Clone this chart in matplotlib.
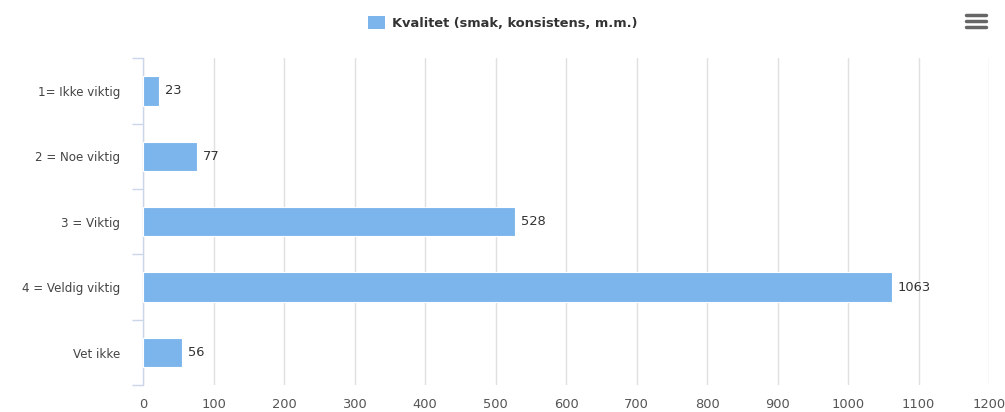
#!/usr/bin/env python3
"""
Horizontal bar chart: Kvalitet (smak, konsistens, m.m.)
"""

import matplotlib
matplotlib.use('Agg')
import matplotlib.pyplot as plt
from matplotlib.lines import Line2D
from matplotlib.patches import Patch

categories = ['1= Ikke viktig', '2 = Noe viktig', '3 = Viktig', '4 = Veldig viktig', 'Vet ikke']
values = [23, 77, 528, 1063, 56]
series_name = 'Kvalitet (smak, konsistens, m.m.)'
xticks = list(range(0, 1300, 100))

BAR_COLOR = '#7cb5ec'


def main():
    plt.rcParams['font.family'] = ['DejaVu Sans']
    fig = plt.figure(figsize=(10.05, 4.12), dpi=100)
    ax = fig.add_axes([0.1423, 0.065, 0.8418, 0.794])

    pos = list(range(len(categories)))
    ax.barh(pos, values, height=0.45, color=BAR_COLOR, edgecolor='white', linewidth=0.8, zorder=3)

    for y, v in zip(pos, values):
        ax.annotate(str(v), (v, y), xytext=(4, 0), textcoords='offset points',
                    va='center', ha='left', fontsize=9.4, color='#333333', zorder=4)

    ax.set_xlim(0, 1200)
    ax.set_ylim(len(categories) - 0.5, -0.5)
    ax.set_xticks(xticks)
    ax.set_xticklabels([str(t) for t in xticks])
    ax.tick_params(axis='x', length=0, pad=9, labelsize=9.4, labelcolor='#555555')

    ax.set_yticks(pos)
    ax.set_yticklabels(categories)
    ax.tick_params(axis='y', which='major', length=0, pad=16.5, labelsize=8.6, labelcolor='#444444')
    ax.set_yticks([p - 0.5 for p in pos] + [len(pos) - 0.5], minor=True)
    ax.tick_params(axis='y', which='minor', length=8, width=1, color='#ccd6eb')

    ax.grid(axis='x', color='#e0e0e0', linewidth=1, zorder=0)
    for side in ['top', 'right', 'bottom']:
        ax.spines[side].set_visible(False)
    ax.spines['left'].set_color('#ccd6eb')
    ax.spines['left'].set_linewidth(1)

    handle = Patch(facecolor=BAR_COLOR, edgecolor='none')
    leg = fig.legend([handle], [series_name], loc='center', bbox_to_anchor=(0.5, 1 - 23 / 412),
                     frameon=False, handlelength=1.3, handleheight=1.1, handletextpad=0.55,
                     prop={'weight': 'bold', 'size': 9.4})
    for t in leg.get_texts():
        t.set_color('#333333')

    # menu icon
    for yy in (15, 21, 27):
        fig.add_artist(Line2D([966 / 1005, 986 / 1005], [1 - yy / 412, 1 - yy / 412],
                              transform=fig.transFigure, color='#666666', linewidth=2.5,
                              solid_capstyle='round'))

    fig.savefig('out.png', dpi=100)


if __name__ == '__main__':
    main()
